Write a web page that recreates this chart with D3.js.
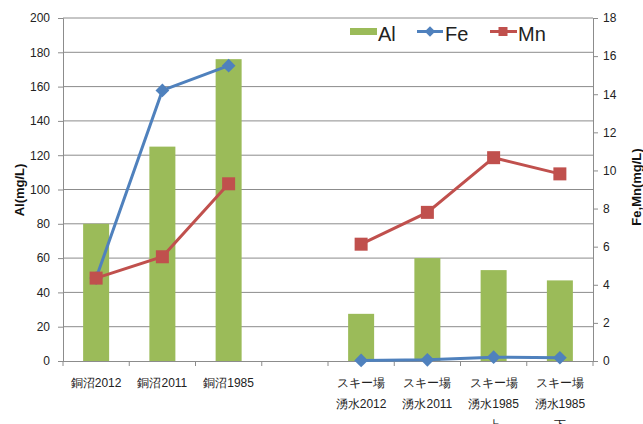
<!DOCTYPE html>
<html><head><meta charset="utf-8">
<script src="https://cdn.jsdelivr.net/npm/d3@7"></script>
<style>
body{margin:0;background:#fff;}
svg text{font-family:"Liberation Sans","DejaVu Sans",sans-serif;}
</style></head>
<body><svg id="c" width="643" height="424"></svg>
<script>
const categories = [["銅沼2012"],["銅沼2011"],["銅沼1985"],[""],["スキー場","湧水2012"],["スキー場","湧水2011"],["スキー場","湧水1985","上"],["スキー場","湧水1985","下"]];
const alValues = [80,125,176,null,27.5,60,53,47];
const feValues = [4.35,14.2,15.5,null,0.03,0.06,0.2,0.17];
const mnValues = [4.35,5.47,9.3,null,6.13,7.8,10.67,9.82];
const leftTicks = d3.range(0,201,20);
const rightTicks = d3.range(0,19,2);

const svg = d3.select("#c");
const m = {l:63, r:593, t:18, b:361};
const x = d3.scaleBand().domain(d3.range(categories.length)).range([m.l,m.r]).paddingInner(0).paddingOuter(0);
const yL = d3.scaleLinear().domain([0,200]).range([m.b,m.t]);
const yR = d3.scaleLinear().domain([0,18]).range([m.b,m.t]);
const gridC = "#8c8c8c";

// gridlines
svg.append("g").selectAll("line").data(leftTicks.slice(1)).join("line")
  .attr("x1",m.l).attr("x2",m.r).attr("y1",d=>yL(d)).attr("y2",d=>yL(d))
  .attr("stroke",gridC).attr("stroke-width",1);

// bars
const bw = 26;
svg.append("g").selectAll("rect").data(alValues.map((v,i)=>({v,i})).filter(d=>d.v!=null)).join("rect")
  .attr("x",d=>x(d.i)+x.bandwidth()/2-bw/2).attr("width",bw)
  .attr("y",d=>yL(d.v)).attr("height",d=>yL(0)-yL(d.v)).attr("fill","#9BBB59");

// axes
const axL = svg.append("g").attr("transform",`translate(${m.l},0)`).call(d3.axisLeft(yL).tickValues(leftTicks).tickSize(5).tickPadding(8));
const axR = svg.append("g").attr("transform",`translate(${m.r},0)`).call(d3.axisRight(yR).tickValues(rightTicks).tickSize(5).tickPadding(5));
const axB = svg.append("g").attr("transform",`translate(0,${m.b})`);
axB.append("line").attr("x1",m.l-5).attr("x2",m.r).attr("y1",0.5).attr("y2",0.5).attr("stroke",gridC);
axB.selectAll("line.tk").data(d3.range(categories.length+1)).join("line").attr("class","tk")
  .attr("x1",i=>m.l+i*x.bandwidth()).attr("x2",i=>m.l+i*x.bandwidth()).attr("y1",0).attr("y2",5).attr("stroke",gridC);
[axL,axR].forEach(a=>{
  a.select(".domain").attr("stroke",gridC);
  a.selectAll(".tick line").attr("stroke",gridC);
  a.selectAll(".tick text").attr("fill","#222").attr("font-size","12px");
});

// x labels
categories.forEach((lines,i)=>{
  const t = svg.append("text").attr("x",x(i)+x.bandwidth()/2).attr("y",387)
    .attr("text-anchor","middle").attr("font-size","12px").attr("fill","#222");
  lines.forEach((s,j)=>t.append("tspan").attr("x",x(i)+x.bandwidth()/2).attr("dy",j?21:0).text(s));
});

// lines with gaps
function drawSeries(vals,color,shape){
  const line = d3.line().defined(d=>d.v!=null).x(d=>x(d.i)+x.bandwidth()/2).y(d=>yR(d.v));
  const data = vals.map((v,i)=>({v,i}));
  svg.append("path").datum(data).attr("d",line).attr("fill","none").attr("stroke",color).attr("stroke-width",3);
  const pts = data.filter(d=>d.v!=null);
  const g = svg.append("g");
  if(shape==="diamond"){
    g.selectAll("path").data(pts).join("path")
      .attr("d",d3.symbol().type(d3.symbolDiamond2).size(120))
      .attr("transform",d=>`translate(${x(d.i)+x.bandwidth()/2},${yR(d.v)})`).attr("fill",color);
  } else {
    g.selectAll("rect").data(pts).join("rect")
      .attr("x",d=>x(d.i)+x.bandwidth()/2-6.5).attr("y",d=>yR(d.v)-6.5).attr("width",13).attr("height",13).attr("fill",color);
  }
}
drawSeries(feValues,"#4F81BD","diamond");
drawSeries(mnValues,"#C0504D","square");

// axis titles
svg.append("text").attr("transform","translate(24,190) rotate(-90)").attr("text-anchor","middle")
  .attr("font-size","13px").attr("font-weight","bold").attr("fill","#111").text("Al(mg/L)");
svg.append("text").attr("transform","translate(641,187) rotate(-90)").attr("text-anchor","middle")
  .attr("font-size","13px").attr("font-weight","bold").attr("fill","#111").text("Fe,Mn(mg/L)");

// legend
const lg = svg.append("g");
lg.append("rect").attr("x",340).attr("y",20).attr("width",240).attr("height",30).attr("fill","#fff");
lg.append("rect").attr("x",350).attr("y",28).attr("width",27).attr("height",7).attr("fill","#9BBB59");
lg.append("text").attr("x",378).attr("y",41).attr("font-size","20px").attr("fill","#222").text("Al");
lg.append("line").attr("x1",417).attr("x2",443).attr("y1",31.5).attr("y2",31.5).attr("stroke","#4F81BD").attr("stroke-width",3);
lg.append("path").attr("d",d3.symbol().type(d3.symbolDiamond2).size(70)).attr("transform","translate(430,31.5)").attr("fill","#4F81BD");
lg.append("text").attr("x",445).attr("y",41).attr("font-size","20px").attr("fill","#222").text("Fe");
lg.append("line").attr("x1",490).attr("x2",517).attr("y1",31.5).attr("y2",31.5).attr("stroke","#C0504D").attr("stroke-width",3);
lg.append("rect").attr("x",498.5).attr("y",27).attr("width",9).attr("height",9).attr("fill","#C0504D");
lg.append("text").attr("x",518).attr("y",41).attr("font-size","20px").attr("fill","#222").text("Mn");
</script></body></html>
